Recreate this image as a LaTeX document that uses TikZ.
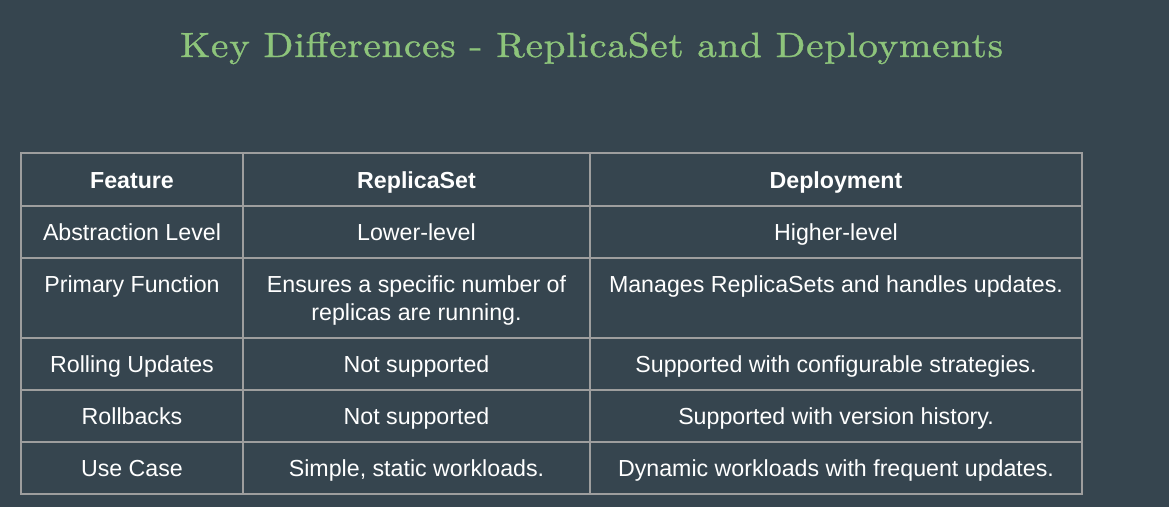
\documentclass[tikz,border=0pt]{standalone}
\usepackage{fontspec}
\usepackage{graphicx}
\newfontfamily\tabfont{Liberation Sans}
\newfontfamily\titlefont[FakeBold=1,LetterSpace=2]{lmroman10-regular.otf}
\definecolor{bg}{HTML}{36454F}
\definecolor{titlegreen}{HTML}{8DC47B}
\definecolor{rulegray}{HTML}{9E9E9E}
\begin{document}
\begin{tikzpicture}[x=1pt,y=-1pt,
  cell/.style={text=white,font=\tabfont\fontsize{23.2}{28}\selectfont,inner sep=0pt,anchor=base},
  head/.style={cell,font=\tabfont\bfseries\fontsize{23.2}{28}\selectfont},
  titlestyle/.style={text=titlegreen,font=\titlefont\fontsize{35}{40}\selectfont,inner sep=0pt,anchor=base},
  gridline/.style={draw=rulegray,line width=1.4pt}]
\fill[bg] (0,0) rectangle (1169,507);
\useasboundingbox (0,0) rectangle (1169,507);
\node[titlestyle] (title) at (591.5,57) {\resizebox{823pt}{\height}{Key Differences - ReplicaSet and Deployments}};
% grid
\coordinate (tl) at (21,153);
\coordinate (br) at (1082,494);
\draw[gridline] (tl) rectangle (br);
\foreach \y in {206,258,338,390,442} \draw[gridline] (21,\y) -- (1082,\y);
\foreach \x in {243,590} \draw[gridline] (\x,153) -- (\x,494);
% header
\node[head] (h1) at (132,188) {Feature};
\node[head] (h2) at (416.5,188) {ReplicaSet};
\node[head] (h3) at (836,188) {Deployment};
% rows
\node[cell] (a1) at (132,240) {Abstraction Level};
\node[cell] (a2) at (416.5,240) {Lower-level};
\node[cell] (a3) at (836,240) {Higher-level};
\node[cell] (b1) at (132,292) {Primary Function};
\node[cell] (b2) at (416.5,292) {Ensures a specific number of};
\node[cell] (b2b) at (416.5,320) {replicas are running.};
\node[cell] (b3) at (836,292) {Manages ReplicaSets and handles updates.};
\node[cell] (c1) at (132,372) {Rolling Updates};
\node[cell] (c2) at (416.5,372) {Not supported};
\node[cell] (c3) at (836,372) {Supported with configurable strategies.};
\node[cell] (d1) at (132,424) {Rollbacks};
\node[cell] (d2) at (416.5,424) {Not supported};
\node[cell] (d3) at (836,424) {Supported with version history.};
\node[cell] (e1) at (132,476) {Use Case};
\node[cell] (e2) at (416.5,476) {Simple, static workloads.};
\node[cell] (e3) at (836,476) {Dynamic workloads with frequent updates.};
\end{tikzpicture}
\end{document}
